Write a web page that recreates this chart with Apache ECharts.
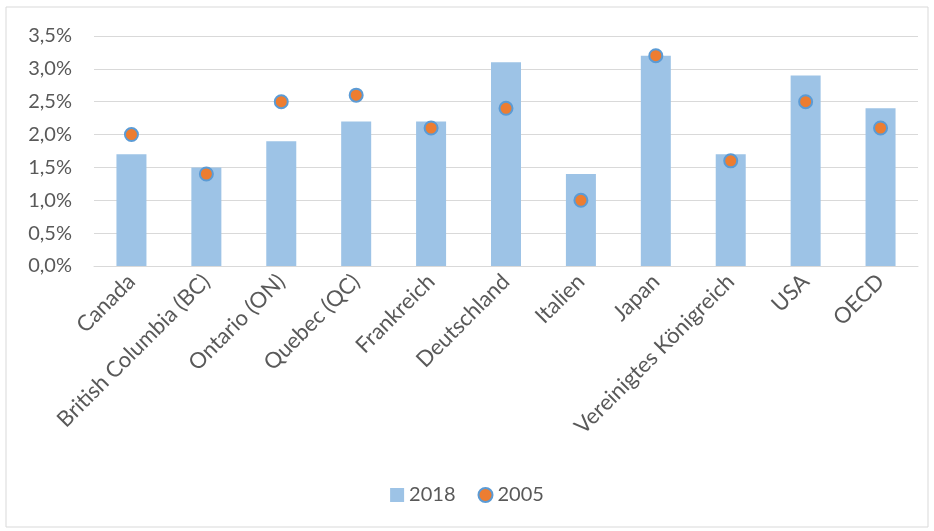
<!DOCTYPE html>
<html>
<head>
<meta charset="utf-8">
<script src="https://cdn.jsdelivr.net/npm/echarts@6/dist/echarts.min.js"></script>
<style>
html, body { margin: 0; padding: 0; background: #fff; }
#chart { width: 934px; height: 531px; }
</style>
</head>
<body>
<div id="chart"></div>
<script>
const categories = ['Canada', 'British Columbia (BC)', 'Ontario (ON)', 'Quebec (QC)', 'Frankreich',
    'Deutschland', 'Italien', 'Japan', 'Vereinigtes Königreich', 'USA', 'OECD'];
const values2018 = [1.7, 1.5, 1.9, 2.2, 2.2, 3.1, 1.4, 3.2, 1.7, 2.9, 2.4];
const values2005 = [2.0, 1.4, 2.5, 2.6, 2.1, 2.4, 1.0, 3.2, 1.6, 2.5, 2.1];

const fmt = v => v.toFixed(1).replace('.', ',') + '%';
const font = 'Lato, "Open Sans", sans-serif';

let myChart = echarts.init(document.getElementById('chart'));

myChart.setOption({
    animation: false,
    textStyle: { fontFamily: font },
    graphic: [{
        type: 'rect',
        shape: { x: 6, y: 7, width: 922, height: 520 },
        style: { fill: 'none', stroke: '#d9d9d9', lineWidth: 1 },
        silent: true
    }],
    grid: { left: 94, right: 16, top: 36, bottom: 265 },
    legend: {
        bottom: 21,
        left: 'center',
        itemGap: 22,
        itemWidth: 14,
        itemHeight: 14,
        textStyle: { fontSize: 20, color: '#595959', fontFamily: font },
        data: [
            { name: '2018', icon: 'rect' },
            { name: '2005', icon: 'circle' }
        ]
    },
    xAxis: {
        type: 'category',
        data: categories,
        axisLine: { lineStyle: { color: '#d9d9d9' } },
        axisTick: { show: false },
        axisLabel: { interval: 0, rotate: 45, fontSize: 22, color: '#595959', margin: 12 }
    },
    yAxis: {
        type: 'value',
        min: 0,
        max: 3.5,
        interval: 0.5,
        axisLine: { show: false },
        axisTick: { show: false },
        splitLine: { lineStyle: { color: '#d9d9d9', width: 1 } },
        axisLabel: { formatter: fmt, fontSize: 20, color: '#595959', margin: 22 }
    },
    series: [
        {
            name: '2018',
            type: 'bar',
            barWidth: 30,
            itemStyle: { color: '#9dc3e6' },
            data: values2018
        },
        {
            name: '2005',
            type: 'scatter',
            symbol: 'circle',
            symbolSize: 13,
            itemStyle: { color: '#ed7d31', borderColor: '#5b9bd5', borderWidth: 2, opacity: 1 },
            data: values2005
        }
    ]
});
</script>
</body>
</html>
